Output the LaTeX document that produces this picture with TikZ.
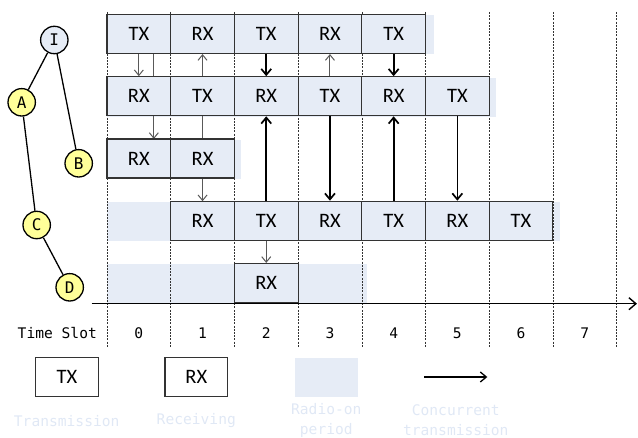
\documentclass[tikz,border=0pt]{standalone}
\usepackage{fontspec}
\newfontfamily\boxfont{Carlito}
\newfontfamily\codefont{DejaVu Sans Mono}
\usetikzlibrary{arrows.meta}
\definecolor{radioon}{RGB}{230,236,246}
\definecolor{nodeyel}{RGB}{255,255,153}
\definecolor{legendtxt}{RGB}{224,232,245}
\begin{document}
\begin{tikzpicture}[x=1pt,y=-1pt,
  slotbox/.style={draw=black!80, line width=1.1pt, fill=radioon,
    minimum width=63.7pt, minimum height=39pt, inner sep=0pt,
    font=\boxfont\fontsize{20.5}{20.5}\selectfont},
  legbox/.style={slotbox, fill=white},
  treenode/.style={circle, draw=black, line width=1.3pt, fill=nodeyel,
    minimum size=27.4pt, inner sep=0pt, font=\codefont\fontsize{16}{16}\selectfont},
  treeedge/.style={line width=1.3pt, black},
  slotline/.style={black!80, line width=0.6pt, dash pattern=on 2pt off 1.2pt},
  normal/.style={black!65, line width=1pt, -{Straight Barb[length=5.5pt,width=9pt]}},
  concur/.style={black, line width=1.7pt, -{Straight Barb[length=6pt,width=10pt]}},
  slotnum/.style={font=\codefont\fontsize{14.6}{14.6}\selectfont},
  legtext/.style={font=\codefont\fontsize{14.6}{20}\selectfont, text=legendtxt, align=center}
]
\useasboundingbox (0,0) rectangle (638,438);

% radio-on periods of each node
\fill[radioon] (107,15.5) rectangle (434,54.5);
\fill[radioon] (107,77.75) rectangle (495.7,116.75);
\fill[radioon] (107,140) rectangle (241,179);
\fill[radioon] (107,202.25) rectangle (560,241.25);
\fill[radioon] (107,264.5) rectangle (366.7,303.5);

% slot boundaries
\foreach \k in {0,...,8}
  \draw[slotline] ({107+63.7*\k},12) -- ({107+63.7*\k},346.7);

% slot boxes
\foreach \lab [count=\k from 0] in {TX,RX,TX,RX,TX}
  \node[slotbox] (I\k) at ({107+63.7*(\k+0.5)},34) {\lab};
\foreach \lab [count=\k from 0] in {RX,TX,RX,TX,RX,TX}
  \node[slotbox] (A\k) at ({107+63.7*(\k+0.5)},96.25) {\lab};
\foreach \lab [count=\k from 1] in {RX,TX,RX,TX,RX,TX}
  \node[slotbox] (C\k) at ({107+63.7*(\k+0.5)},220.75) {\lab};
\node[slotbox] (D2) at ({107+63.7*2.5},283) {RX};

% links that pass behind the boxes of other nodes
\draw[normal] ([xshift=15pt]I0.south) -- ([xshift=15pt]I0.south |- 0,139);
\draw[normal] (A1.south) -- (A1.south |- 0,201.25);
\node[slotbox] (A0) at ({107+63.7*0.5},96.25) {RX};
\node[slotbox] (B0) at ({107+63.7*0.5},158.5) {RX};
\node[slotbox] (B1) at ({107+63.7*1.5},158.5) {RX};

% slot 0
\draw[normal] (I0.south) -- (A0.north);
% slot 1
\draw[normal] (A1.north) -- (I1.south);
% slot 2
\draw[concur] (I2.south) -- (A2.north);
\draw[concur] (C2.north) -- (A2.south);
\draw[normal] (C2.south) -- (D2.north);
% slot 3
\draw[normal] (A3.north) -- (I3.south);
\draw[concur] (A3.south) -- (C3.north);
% slot 4
\draw[concur] (I4.south) -- (A4.north);
\draw[concur] (C4.north) -- (A4.south);
% slot 5
\draw[concur] (A5.south) -- (C5.north);

% time axis
\coordinate (axL) at (91.7,303.7);
\coordinate (axR) at (637,303.7);
\draw[line width=1.4pt, -{Straight Barb[length=7pt,width=12pt]}] (axL) -- (axR);
\node[slotnum] (tslab) at (57.3,333) {Time Slot};
\foreach \k in {0,...,7}
  \node[slotnum] (n\k) at ({107+63.7*(\k+0.5)},333) {\k};

% topology
\node[treenode, fill=radioon] (nI) at (54.3,40) {I};
\node[treenode] (nA) at (21.7,102.3) {A};
\node[treenode] (nB) at (78.7,163.3) {B};
\node[treenode] (nC) at (36.7,225) {C};
\node[treenode] (nD) at (69.7,287.3) {D};
\draw[treeedge] (nI) -- (nA);
\draw[treeedge] (nI) -- (nB);
\draw[treeedge] (nA) -- (nC);
\draw[treeedge] (nC) -- (nD);

% legend
\node[legbox, minimum width=62.6pt, minimum height=39.4pt] (lgTX) at (67,377) {TX};
\node[legbox, minimum width=62.6pt, minimum height=39.4pt] (lgRX) at (196.3,377) {RX};
\node[fill=radioon, minimum width=62.7pt, minimum height=39.4pt, inner sep=0pt] (lgOn) at (326.3,377.5) {};
\coordinate (lgA) at (424,377);
\coordinate (lgB) at (487.3,377);
\draw[line width=1.3pt, -{Straight Barb[length=6pt,width=10pt]}] (lgA) -- (lgB);
\node[legtext] (tTX) at (66.7,421) {Transmission};
\node[legtext] (tRX) at (196.3,421) {Receiving};
\node[legtext] (tOn) at (326.3,420.5) {Radio-on\\period};
\node[legtext] (tCc) at (455.8,420.5) {Concurrent\\transmission};
\end{tikzpicture}
\end{document}
